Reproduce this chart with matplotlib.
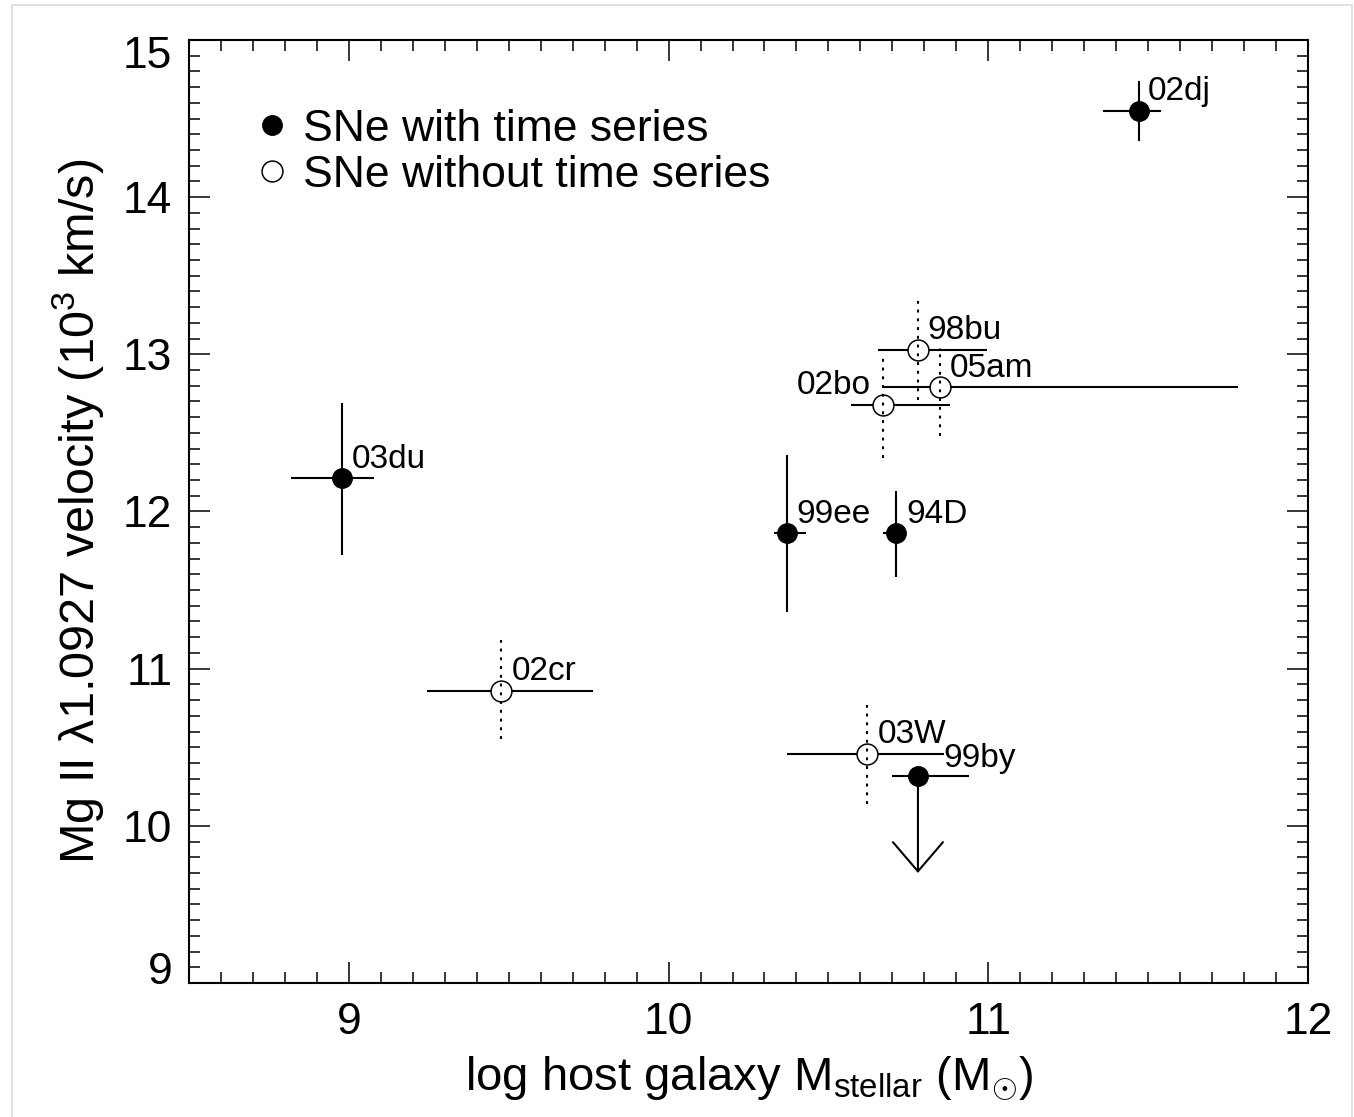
import numpy as np
import matplotlib
matplotlib.use('Agg')
import matplotlib.pyplot as plt
from matplotlib.lines import Line2D
from matplotlib.patches import Rectangle
from matplotlib.transforms import ScaledTranslation

plt.rcParams['font.family'] = ['Liberation Sans', 'DejaVu Sans']
plt.rcParams['mathtext.fontset'] = 'custom'
plt.rcParams['mathtext.rm'] = 'Liberation Sans'
plt.rcParams['mathtext.it'] = 'Liberation Sans'

# SNe with time series (filled)
name_ts = ['02dj', '03du', '99ee', '94D', '99by']
mass_ts = np.array([11.47, 8.98, 10.37, 10.71, 10.78])
mass_lo_ts = np.array([0.11, 0.16, 0.04, 0.04, 0.08])
mass_hi_ts = np.array([0.07, 0.10, 0.06, 0.03, 0.16])
vel_ts = np.array([14.55, 12.21, 11.86, 11.86, 10.32])
vel_lo_ts = np.array([0.19, 0.49, 0.50, 0.28, 0.0])
vel_hi_ts = np.array([0.19, 0.48, 0.50, 0.27, 0.0])

# upper limit for 99by
lim_mass = 10.78
lim_vel = 10.32
lim_end = 9.70

# SNe without time series (open)
name_nts = ['02cr', '03W', '98bu', '05am', '02bo']
mass_nts = np.array([9.475, 10.62, 10.78, 10.85, 10.67])
mass_lo_nts = np.array([0.23, 0.25, 0.125, 0.18, 0.10])
mass_hi_nts = np.array([0.29, 0.24, 0.215, 0.93, 0.21])
vel_nts = np.array([10.86, 10.46, 13.03, 12.79, 12.68])
vel_lo_nts = np.array([0.31, 0.32, 0.32, 0.31, 0.34])
vel_hi_nts = np.array([0.32, 0.31, 0.31, 0.25, 0.31])

fig = plt.figure(figsize=(13.54, 11.17), dpi=100)
ax = fig.add_axes([0.1396, 0.12, 0.8264, 0.8442])

# light screenshot frame
fig.add_artist(Rectangle((12/1354, -0.01), 1340/1354, 1.0 - 5/1117 + 0.01,
                         transform=fig.transFigure, fill=False,
                         edgecolor='#dcdcdc', lw=1.2))

lw = 1.5
ax.errorbar(mass_nts, vel_nts, xerr=[mass_lo_nts, mass_hi_nts], fmt='none',
            ecolor='black', elinewidth=lw, capsize=0, zorder=2)
ax.plot(mass_nts, vel_nts, 'o', ms=15, mfc='white', mec='black', mew=1.1, zorder=3)
ax.vlines(mass_nts, vel_nts - vel_lo_nts, vel_nts + vel_hi_nts, colors='black',
          linestyles=(0, (1.4, 2.8)), lw=lw, zorder=4)

ax.errorbar(mass_ts, vel_ts, xerr=[mass_lo_ts, mass_hi_ts], yerr=[vel_lo_ts, vel_hi_ts],
            fmt='none', ecolor='black', elinewidth=lw, capsize=0, zorder=2)
ax.plot(mass_ts, vel_ts, 'o', ms=14, mfc='black', mec='black', zorder=5)

ax.annotate('', xy=(lim_mass, lim_end), xytext=(lim_mass, lim_vel),
            arrowprops=dict(arrowstyle='->, head_length=0.7, head_width=0.6',
                            color='black', lw=lw, shrinkA=0, shrinkB=0,
                            mutation_scale=30), zorder=2)

# labels
offsets = {'02dj': (7, 7.5), '03du': (7, 7.5), '99ee': (7, 7.5), '94D': (8, 7.5),
           '99by': (18, 6), '02cr': (8, 7.5), '03W': (8, 7.5), '98bu': (7, 7.5),
           '05am': (7, 7.5), '02bo': (-9, 7.5)}
for nm, x, y in zip(name_ts + name_nts, np.concatenate([mass_ts, mass_nts]),
                    np.concatenate([vel_ts, vel_nts])):
    dx, dy = offsets[nm]
    ax.annotate(nm, (x, y), xytext=(dx, dy), textcoords='offset points',
                fontsize=24, ha='right' if dx < 0 else 'left', va='baseline', zorder=6)

ax.set_xlim(8.5, 12)
ax.set_ylim(9, 15)
ax.set_xticks([9, 10, 11, 12])
ax.set_yticks([9, 10, 11, 12, 13, 14, 15])
ax.set_xticks(np.arange(8.6, 12.0, 0.1), minor=True)
ax.set_yticks(np.arange(9.1, 15.0, 0.1), minor=True)
ax.tick_params(which='both', direction='in', top=True, right=True, width=1.1,
               labelsize=32)
ax.tick_params(which='major', length=15)
ax.tick_params(which='minor', length=8)
ax.tick_params(axis='x', pad=14)
ax.tick_params(axis='y', pad=12)
for s in ax.spines.values():
    s.set_linewidth(1.5)

ylabs = ax.get_yticklabels()
ylabs[0].set_transform(ylabs[0].get_transform() + ScaledTranslation(0, 0.15, fig.dpi_scale_trans))
ylabs[-1].set_transform(ylabs[-1].get_transform() + ScaledTranslation(0, -0.12, fig.dpi_scale_trans))

ax.set_xlabel(r'log host galaxy M$_{\rm stellar}$ (M$_{\odot}$)', fontsize=34, labelpad=8)
ax.set_ylabel(r'Mg II $\lambda$1.0927 velocity (10$^3$ km/s)', fontsize=35, labelpad=12)

handles = [Line2D([], [], ls='none', marker='o', ms=14, mfc='black', mec='black'),
           Line2D([], [], ls='none', marker='o', ms=15, mfc='white', mec='black', mew=1.1)]
ax.legend(handles, ['SNe with time series', 'SNe without time series'],
          loc='upper left', bbox_to_anchor=(0.038, 0.946), frameon=False,
          fontsize=32, handlelength=1.0, handletextpad=0.2, labelspacing=0.12,
          borderaxespad=0)

fig.savefig('out.png', dpi=100)
